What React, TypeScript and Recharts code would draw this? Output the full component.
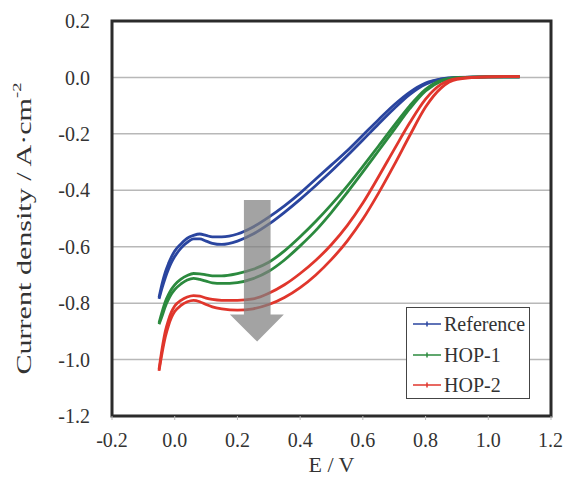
import { CartesianGrid, Label, Legend, Line, LineChart, ReferenceArea, XAxis, YAxis } from 'recharts';

// Linear sweep voltammograms (RDE), forward and return scans for each electrode.
// Values.

const potentials = [
  -0.05, -0.04, -0.03, -0.02, -0.01, 0.0, 0.02, 0.04, 0.06, 0.08, 0.1, 0.12, 0.15, 0.2, 0.25,
  0.3, 0.35, 0.4, 0.45, 0.5, 0.55, 0.6, 0.65, 0.7, 0.75, 0.8, 0.85, 0.9, 1.0, 1.1,
];

const referenceUpper = [
  -0.78, -0.73, -0.69, -0.66, -0.635, -0.615, -0.59, -0.57, -0.56, -0.555, -0.56, -0.565, -0.565,
  -0.555, -0.53, -0.495, -0.455, -0.41, -0.36, -0.31, -0.26, -0.205, -0.15, -0.097, -0.052, -0.02,
  -0.005, 0, 0.002, 0.002,
];
const referenceLower = [
  -0.785, -0.745, -0.71, -0.68, -0.655, -0.635, -0.605, -0.585, -0.572, -0.572, -0.58, -0.588,
  -0.592, -0.58, -0.555, -0.52, -0.478, -0.432, -0.383, -0.332, -0.278, -0.222, -0.165, -0.11,
  -0.06, -0.024, -0.006, -0.001, 0.002, 0.002,
];

const hop1Upper = [
  -0.87, -0.83, -0.795, -0.77, -0.75, -0.735, -0.715, -0.702, -0.695, -0.696, -0.7, -0.703, -0.703,
  -0.695, -0.68, -0.655, -0.615, -0.565, -0.51, -0.45, -0.385, -0.315, -0.243, -0.17, -0.1, -0.042,
  -0.01, -0.001, 0.002, 0.002,
];
const hop1Lower = [
  -0.875, -0.845, -0.812, -0.787, -0.767, -0.752, -0.732, -0.718, -0.712, -0.716, -0.722, -0.728,
  -0.73, -0.727, -0.713, -0.687, -0.647, -0.597, -0.542, -0.478, -0.408, -0.335, -0.26, -0.185,
  -0.11, -0.048, -0.013, -0.002, 0.002, 0.002,
];

const hop2Upper = [
  -1.035, -0.96, -0.9, -0.86, -0.83, -0.81, -0.79, -0.778, -0.773, -0.775, -0.782, -0.787, -0.79,
  -0.79, -0.785, -0.765, -0.735, -0.695, -0.648, -0.592, -0.525, -0.445, -0.352, -0.255, -0.16,
  -0.077, -0.024, -0.004, 0.002, 0.003,
];
const hop2Lower = [
  -1.04, -0.975, -0.92, -0.88, -0.85, -0.83, -0.808, -0.795, -0.79, -0.795, -0.805, -0.813, -0.82,
  -0.825, -0.82, -0.805, -0.78, -0.745, -0.7, -0.645, -0.58, -0.502, -0.41, -0.31, -0.205, -0.105,
  -0.037, -0.007, 0.002, 0.003,
];

const xTicks = [-0.2, 0, 0.2, 0.4, 0.6, 0.8, 1.0, 1.2];
const yTicks = [-1.2, -1.0, -0.8, -0.6, -0.4, -0.2, 0, 0.2];

const FONT = 'Liberation Serif, Times New Roman, serif';
const TEXT = '#333';

const toPoints = (values: number[]) => potentials.map((e, i) => ({ e, j: values[i] }));

const series = [
  { name: 'Reference', color: '#2a459f', upper: referenceUpper, lower: referenceLower },
  { name: 'HOP-1', color: '#2b8a3e', upper: hop1Upper, lower: hop1Lower },
  { name: 'HOP-2', color: '#e0362c', upper: hop2Upper, lower: hop2Lower },
];

// grey "decreasing" arrow, in data units
const arrowBox = { x1: 0.176, x2: 0.348, y1: -0.936, y2: -0.434 };

function ArrowShape(props: any) {
  const { x, y, width: w, height: h } = props;
  const sl = x + w * 0.26;
  const sr = x + w * 0.754;
  const hb = y + h * 0.81;
  const tip = x + w * 0.505;
  const d = `M${sl},${y} L${sr},${y} L${sr},${hb} L${x + w},${hb} L${tip},${y + h} L${x},${hb} L${sl},${hb} Z`;
  return <path d={d} fill='#7f7f7f' fillOpacity={0.72} stroke='none' />;
}

function LegendBox() {
  return (
    <div
      style={{
        border: '1.5px solid #444',
        background: '#fff',
        width: 124,
        height: 92,
        boxSizing: 'border-box',
        paddingTop: 1,
        fontFamily: FONT,
        fontSize: 20,
        color: TEXT,
      }}
    >
      {series.map((s) => (
        <div key={s.name} style={{ display: 'flex', alignItems: 'center', height: 30.5 }}>
          <svg width={37} height={10} style={{ flex: 'none' }}>
            <line x1={6} y1={5} x2={34} y2={5} stroke={s.color} strokeWidth={1.5} />
            <line x1={20} y1={2.5} x2={20} y2={7.5} stroke={s.color} strokeWidth={1.5} />
          </svg>
          <span style={{ lineHeight: 1 }}>{s.name}</span>
        </div>
      ))}
    </div>
  );
}

function YTitle(props: any) {
  const vb = props.viewBox;
  const cx = vb.x - 28;
  const cy = vb.y + vb.height / 2 + 10;
  return (
    <text
      x={cx}
      y={cy}
      transform={`rotate(-90 ${cx} ${cy})`}
      textAnchor='middle'
      dominantBaseline='central'
      fontFamily={FONT}
      fontSize={21}
      fill={TEXT}
      textLength={292}
      lengthAdjust='spacingAndGlyphs'
    >
      Current density / A·cm
      <tspan dy={-8} fontSize={13}>
        -2
      </tspan>
    </text>
  );
}

export default function App() {
  return (
    <div style={{ position: 'absolute', left: 0, top: 0, width: 563, height: 478, background: '#fff' }}>
      <LineChart width={563} height={478} margin={{ top: 21, right: 12, bottom: 4, left: 52 }}>
        <CartesianGrid vertical={false} stroke='#b8b8b8' strokeWidth={1.5} />
        <XAxis
          type='number'
          dataKey='e'
          domain={[-0.2, 1.2]}
          ticks={xTicks}
          allowDataOverflow
          tickFormatter={(v: number) => v.toFixed(1)}
          axisLine={false}
          tickLine={{ stroke: '#bbb' }}
          tickSize={4}
          tickMargin={13}
          height={58}
          tick={{ fill: TEXT, fontSize: 20, fontFamily: FONT }}
        >
          <Label
            value='E / V'
            position='insideBottom'
            offset={2}
            style={{ fill: TEXT, fontSize: 22, fontFamily: FONT }}
          />
        </XAxis>
        <YAxis
          type='number'
          domain={[-1.2, 0.2]}
          ticks={yTicks}
          allowDataOverflow
          tickFormatter={(v: number) => v.toFixed(1)}
          axisLine={false}
          tickLine={false}
          tickSize={0}
          tickMargin={22}
          width={60}
          tick={{ fill: TEXT, fontSize: 20, fontFamily: FONT }}
        >
          <Label content={<YTitle />} />
        </YAxis>
        {series.map((s) => [
          <Line
            key={`${s.name}-up`}
            data={toPoints(s.upper)}
            dataKey='j'
            name={s.name}
            type='monotone'
            stroke={s.color}
            strokeWidth={2.8}
            dot={false}
            activeDot={false}
            isAnimationActive={false}
          />,
          <Line
            key={`${s.name}-down`}
            data={toPoints(s.lower)}
            dataKey='j'
            name={`${s.name} return`}
            legendType='none'
            type='monotone'
            stroke={s.color}
            strokeWidth={2.8}
            dot={false}
            activeDot={false}
            isAnimationActive={false}
          />,
        ])}
        <ReferenceArea
          x1={-0.2}
          x2={1.2}
          y1={-1.2}
          y2={0.2}
          fill='none'
          stroke='#2b2b2b'
          strokeWidth={3}
          fillOpacity={0}
        />
        <ReferenceArea {...arrowBox} shape={<ArrowShape />} zIndex={1500} />
        <Legend
          layout='horizontal'
          verticalAlign='middle'
          align='center'
          content={<LegendBox />}
          wrapperStyle={{ left: 406, top: 307, width: 124, height: 92 }}
        />
      </LineChart>
    </div>
  );
}
